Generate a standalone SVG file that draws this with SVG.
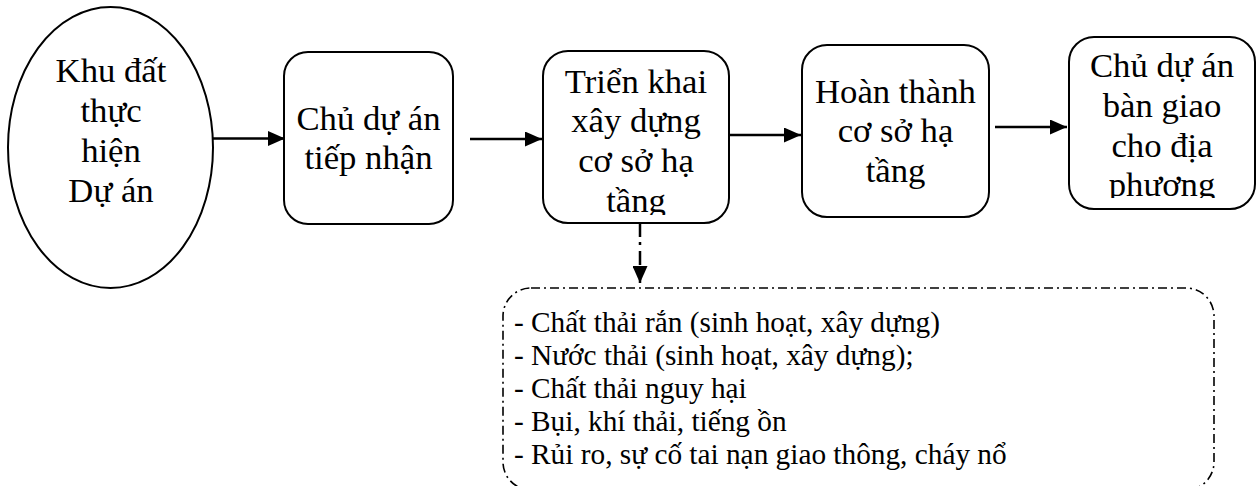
<svg xmlns="http://www.w3.org/2000/svg" width="1257" height="486" viewBox="0 0 1257 486">
  <style>
    .node { fill: #fff; stroke: #000; stroke-width: 2; }
    .lbl { font-family: "Liberation Serif", "Times New Roman", serif; font-size: 34.7px; fill: #000; text-anchor: middle; }
    .list { font-family: "Liberation Serif", "Times New Roman", serif; font-size: 29.3px; fill: #000; }
    .flow { stroke: #000; stroke-width: 2.5; fill: none; marker-end: url(#head); }
    .dashed { stroke: #000; stroke-width: 2.5; fill: none; stroke-dasharray: 14 5 3 6; marker-end: url(#head); }
    .dashbox { fill: none; stroke: #000; stroke-width: 1.6; stroke-dasharray: 9 4 2 4; }
  </style>
  <defs>
    <marker id="head" markerUnits="userSpaceOnUse" markerWidth="17" markerHeight="15" refX="17" refY="7.5" orient="auto">
      <path d="M0,0 L17,7.5 L0,15 z" fill="#000"/>
    </marker>
    <clipPath id="clip-build"><rect x="543" y="51" width="186" height="164"/></clipPath>
    <clipPath id="clip-handover"><rect x="1069" y="37" width="187" height="161"/></clipPath>
  </defs>

  <rect width="1257" height="486" fill="#fff"/>

  <!-- connectors -->
  <g id="connectors">
    <line class="flow" x1="213" y1="138.5" x2="285" y2="138.5"/>
    <line class="flow" x1="470" y1="139" x2="542" y2="139"/>
    <line class="flow" x1="729" y1="135" x2="801" y2="135"/>
    <line class="flow" x1="995" y1="127" x2="1067" y2="127"/>
    <line class="dashed" x1="640" y1="223" x2="640" y2="283"/>
  </g>

  <g id="site">
    <ellipse class="node" cx="110.5" cy="147.5" rx="102.5" ry="140.5" stroke-width="1.6"/>
    <text class="lbl" x="111" y="82">Khu đất</text>
    <text class="lbl" x="111" y="122">thực</text>
    <text class="lbl" x="111" y="162">hiện</text>
    <text class="lbl" x="111" y="202">Dự án</text>
  </g>

  <g id="receive">
    <rect class="node" x="284" y="52" width="169" height="172" rx="24"/>
    <text class="lbl" x="368.5" y="130">Chủ dự án</text>
    <text class="lbl" x="368.5" y="169">tiếp nhận</text>
  </g>

  <g id="build">
    <rect class="node" x="543" y="51" width="186" height="172" rx="25"/>
    <g clip-path="url(#clip-build)">
      <text class="lbl" x="636" y="93">Triển khai</text>
      <text class="lbl" x="636" y="132">xây dựng</text>
      <text class="lbl" x="636" y="172">cơ sở hạ</text>
      <text class="lbl" x="636" y="212">tầng</text>
    </g>
  </g>

  <g id="complete">
    <rect class="node" x="802" y="45" width="187" height="172" rx="25"/>
    <text class="lbl" x="895.5" y="102.5">Hoàn thành</text>
    <text class="lbl" x="895.5" y="142">cơ sở hạ</text>
    <text class="lbl" x="895.5" y="181.5">tầng</text>
  </g>

  <g id="handover">
    <rect class="node" x="1069" y="37" width="186" height="172" rx="25"/>
    <g clip-path="url(#clip-handover)">
      <text class="lbl" x="1162" y="77">Chủ dự án</text>
      <text class="lbl" x="1162" y="117">bàn giao</text>
      <text class="lbl" x="1162" y="157">cho địa</text>
      <text class="lbl" x="1162" y="196">phương</text>
    </g>
  </g>

  <g id="impacts">
    <rect class="dashbox" x="503" y="288" width="711" height="202" rx="28"/>
    <text class="list" x="514" y="331.5">- Chất thải rắn (sinh hoạt, xây dựng)</text>
    <text class="list" x="514" y="364.5">- Nước thải (sinh hoạt, xây dựng);</text>
    <text class="list" x="514" y="397.5">- Chất thải nguy hại</text>
    <text class="list" x="514" y="430.5">- Bụi, khí thải, tiếng ồn</text>
    <text class="list" x="514" y="463.5">- Rủi ro, sự cố tai nạn giao thông, cháy nổ</text>
  </g>
</svg>
